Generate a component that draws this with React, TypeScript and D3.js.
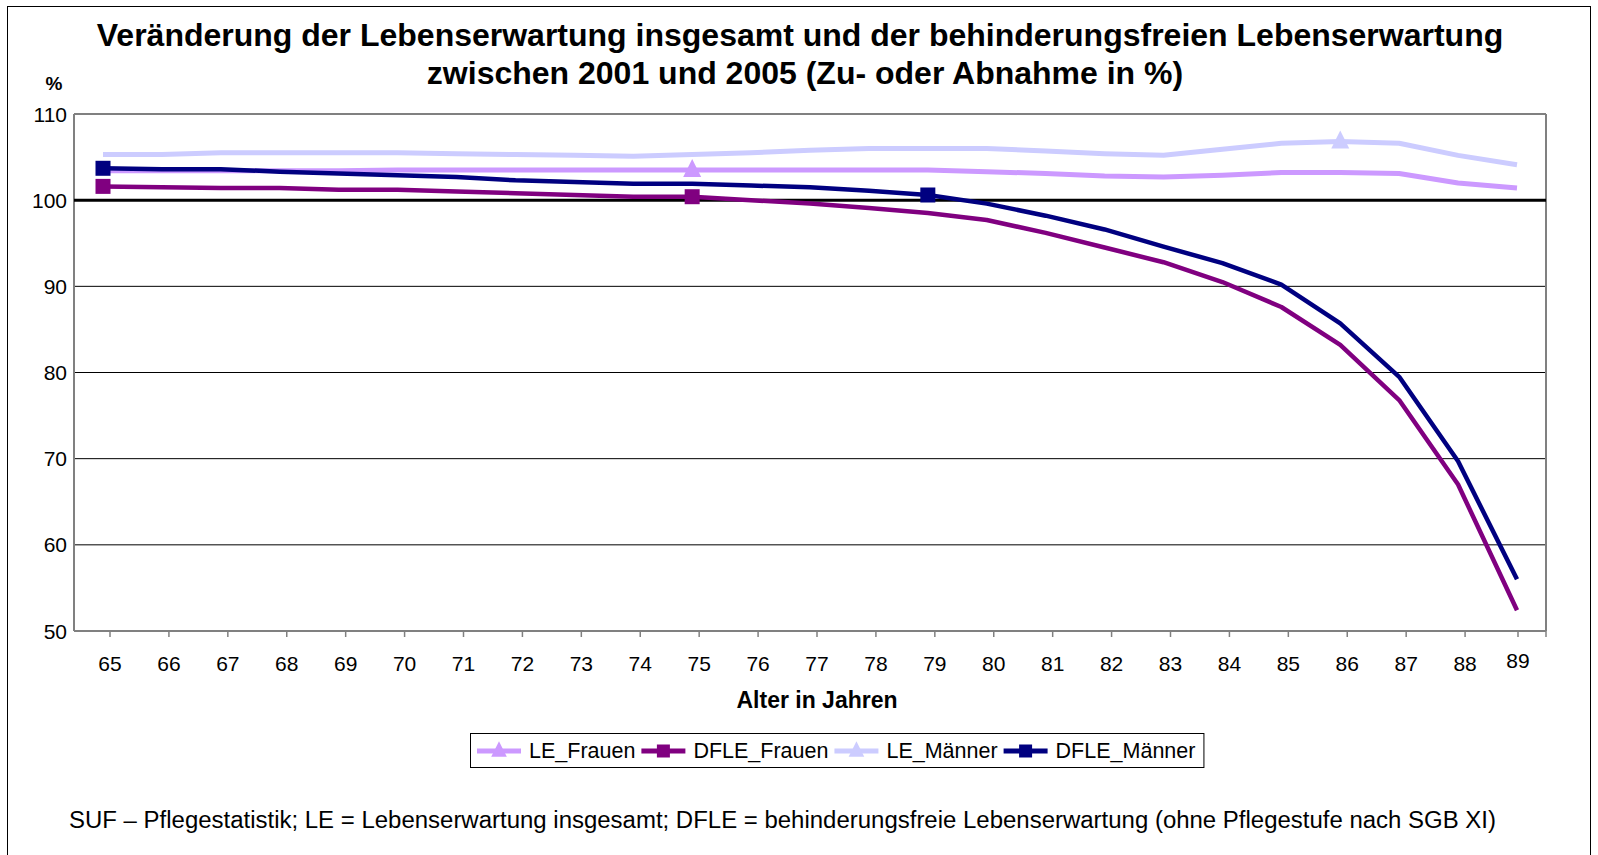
import { useRef, useEffect } from 'react';
import * as d3 from 'd3';

// ---------------------------------------------------------------------------
// Data
// ---------------------------------------------------------------------------
const AGES = [65, 66, 67, 68, 69, 70, 71, 72, 73, 74, 75, 76, 77, 78, 79, 80, 81, 82, 83, 84, 85, 86, 87, 88, 89];
const LE_FRAUEN = [103.4, 103.4, 103.4, 103.4, 103.4, 103.5, 103.5, 103.5, 103.5, 103.5, 103.5, 103.5, 103.5, 103.5, 103.5, 103.3, 103.1, 102.8, 102.7, 102.9, 103.2, 103.2, 103.1, 102.0, 101.4];
const DFLE_FRAUEN = [101.6, 101.5, 101.4, 101.4, 101.2, 101.2, 101.0, 100.8, 100.6, 100.4, 100.4, 100.0, 99.6, 99.1, 98.5, 97.7, 96.2, 94.5, 92.8, 90.5, 87.6, 83.2, 76.8, 67.0, 52.4];
const LE_MAENNER = [105.3, 105.3, 105.5, 105.5, 105.5, 105.5, 105.4, 105.3, 105.2, 105.1, 105.3, 105.5, 105.8, 106.0, 106.0, 106.0, 105.7, 105.4, 105.2, 105.9, 106.6, 106.8, 106.6, 105.2, 104.1];
const DFLE_MAENNER = [103.7, 103.6, 103.6, 103.3, 103.1, 102.9, 102.7, 102.3, 102.1, 101.9, 101.9, 101.7, 101.5, 101.1, 100.6, 99.6, 98.2, 96.6, 94.6, 92.7, 90.2, 85.7, 79.5, 69.7, 56.0];
const Y_TICKS = [50, 60, 70, 80, 90, 100, 110];

const SERIES = [
  { name: 'LE_Frauen', values: LE_FRAUEN, color: '#CC99FF', marker: 'triangle', markAt: [75] },
  { name: 'DFLE_Frauen', values: DFLE_FRAUEN, color: '#800080', marker: 'square', markAt: [65, 75] },
  { name: 'LE_Männer', values: LE_MAENNER, color: '#CCCCFF', marker: 'triangle', markAt: [86] },
  { name: 'DFLE_Männer', values: DFLE_MAENNER, color: '#000080', marker: 'square', markAt: [65, 79] },
];

const TITLE_1 = 'Veränderung der Lebenserwartung insgesamt und der behinderungsfreien Lebenserwartung';
const TITLE_2 = 'zwischen 2001 und 2005 (Zu- oder Abnahme in %)';
const X_TITLE = 'Alter in Jahren';
const FOOTNOTE =
  'SUF – Pflegestatistik; LE = Lebenserwartung insgesamt; DFLE = behinderungsfreie Lebenserwartung (ohne Pflegestufe nach SGB XI)';

const FONT = 'Arial, "Liberation Sans", sans-serif';
const W = 1598;
const H = 855;

export default function App() {
  const svgRef = useRef<SVGSVGElement>(null);

  useEffect(() => {
    const svg = svgRef.current;
    if (!svg) return;
    const sel = d3.select(svg);
    sel.selectAll('*').remove();

    // plot area
    const left = 74;
    const right = 1546;
    const top = 114;
    const bottom = 631;

    const x = d3.scaleLinear().domain([65, 89]).range([103, 1517]);
    const y = d3.scaleLinear().domain([50, 110]).range([bottom, top]);

    // outer frame
    sel.append('rect')
      .attr('x', 7.5).attr('y', 6.5).attr('width', 1583).attr('height', 860)
      .attr('fill', '#fff').attr('stroke', '#000').attr('stroke-width', 1);

    // titles
    sel.append('text')
      .attr('x', 800).attr('y', 46)
      .attr('text-anchor', 'middle')
      .attr('font-family', FONT).attr('font-weight', 'bold').attr('font-size', 32)
      .text(TITLE_1);
    sel.append('text')
      .attr('x', 805).attr('y', 84)
      .attr('text-anchor', 'middle')
      .attr('font-family', FONT).attr('font-weight', 'bold').attr('font-size', 32)
      .text(TITLE_2);
    sel.append('text')
      .attr('x', 54).attr('y', 90)
      .attr('text-anchor', 'middle')
      .attr('font-family', FONT).attr('font-weight', 'bold').attr('font-size', 19)
      .text('%');

    // gridlines
    Y_TICKS.filter((t) => t > 50 && t < 100).forEach((t) => {
      sel.append('line')
        .attr('x1', left).attr('x2', right)
        .attr('y1', y(t)).attr('y2', y(t))
        .attr('stroke', '#000').attr('stroke-width', 1);
    });

    // plot frame
    sel.append('line').attr('x1', left).attr('x2', right).attr('y1', top).attr('y2', top)
      .attr('stroke', '#808080').attr('stroke-width', 2);
    sel.append('line').attr('x1', right).attr('x2', right).attr('y1', top).attr('y2', bottom)
      .attr('stroke', '#808080').attr('stroke-width', 2);
    sel.append('line').attr('x1', left).attr('x2', left).attr('y1', top).attr('y2', bottom)
      .attr('stroke', '#808080').attr('stroke-width', 2);
    sel.append('line').attr('x1', left).attr('x2', right).attr('y1', bottom).attr('y2', bottom)
      .attr('stroke', '#808080').attr('stroke-width', 2);

    // 100 reference line
    sel.append('line')
      .attr('x1', left).attr('x2', right)
      .attr('y1', y(100)).attr('y2', y(100))
      .attr('stroke', '#000').attr('stroke-width', 3);

    // y labels
    Y_TICKS.forEach((t) => {
      sel.append('text')
        .attr('x', 67).attr('y', y(t))
        .attr('text-anchor', 'end').attr('dominant-baseline', 'central')
        .attr('font-family', FONT).attr('font-size', 21)
        .text(String(t));
    });

    // x ticks + labels (Excel offsets category labels slightly)
    const labelX = (a: number) => (a === 89 ? x(a) + 1 : x(a) + 7);
    AGES.forEach((a) => {
      const lx = labelX(a);
      sel.append('line')
        .attr('x1', lx).attr('x2', lx).attr('y1', bottom).attr('y2', bottom + 6)
        .attr('stroke', '#808080').attr('stroke-width', 1.5);
      sel.append('text')
        .attr('x', lx).attr('y', a === 89 ? 660 : 663)
        .attr('text-anchor', 'middle').attr('dominant-baseline', 'central')
        .attr('font-family', FONT).attr('font-size', 21)
        .text(String(a));
    });
    sel.append('line')
      .attr('x1', right).attr('x2', right).attr('y1', bottom).attr('y2', bottom + 6)
      .attr('stroke', '#808080').attr('stroke-width', 1.5);

    sel.append('text')
      .attr('x', 817).attr('y', 700)
      .attr('text-anchor', 'middle').attr('dominant-baseline', 'central')
      .attr('font-family', FONT).attr('font-weight', 'bold').attr('font-size', 23)
      .text(X_TITLE);

    // series
    const drawMarker = (
      g: d3.Selection<SVGGElement, unknown, null, undefined>,
      type: string,
      cx: number,
      cy: number,
      color: string,
      size: number,
    ) => {
      if (type === 'square') {
        g.append('rect')
          .attr('x', cx - size / 2).attr('y', cy - size / 2)
          .attr('width', size).attr('height', size)
          .attr('fill', color);
      } else {
        const s = size * 1.2;
        g.append('path')
          .attr('d', `M${cx},${cy - s / 2 - 2}L${cx + s / 2},${cy + s / 2 - 2}L${cx - s / 2},${cy + s / 2 - 2}Z`)
          .attr('fill', color);
      }
    };

    const line = d3
      .line<number>()
      .x((_, i) => x(AGES[i]))
      .y((d) => y(d));

    SERIES.forEach((s) => {
      const g = sel.append('g');
      g.append('path')
        .datum(s.values)
        .attr('d', line)
        .attr('fill', 'none')
        .attr('stroke', s.color)
        .attr('stroke-width', s.marker === 'triangle' ? 5 : 4.5)
        .attr('stroke-linejoin', 'round');
      s.markAt.forEach((a) => {
        const i = AGES.indexOf(a);
        drawMarker(g, s.marker, x(a), y(s.values[i]), s.color, 15);
      });
    });

    // legend
    const lg = sel.append('g');
    const box = lg.append('rect')
      .attr('y', 733.5).attr('height', 34)
      .attr('fill', '#fff').attr('stroke', '#000').attr('stroke-width', 1);
    let cx = 477;
    SERIES.forEach((s) => {
      const ig = lg.append('g');
      ig.append('line')
        .attr('x1', cx).attr('x2', cx + 44).attr('y1', 751).attr('y2', 751)
        .attr('stroke', s.color).attr('stroke-width', 5);
      drawMarker(ig, s.marker, cx + 22, 751, s.color, 13);
      const t = ig.append('text')
        .attr('x', cx + 52).attr('y', 751)
        .attr('dominant-baseline', 'central')
        .attr('font-family', FONT).attr('font-size', 21.5)
        .text(s.name);
      const tw = (t.node() as SVGTextElement).getComputedTextLength();
      cx += 52 + tw + 6;
    });
    box.attr('x', 470.5).attr('width', cx - 470 + 2);

    sel.append('text')
      .attr('x', 69).attr('y', 828)
      .attr('font-family', FONT).attr('font-size', 23)
      .attr('textLength', 1427).attr('lengthAdjust', 'spacingAndGlyphs')
      .text(FOOTNOTE);
  }, []);

  return (
    <div style={{ position: 'absolute', left: 0, top: 0 }}>
      <svg ref={svgRef} width={W} height={H} style={{ display: 'block' }} />
    </div>
  );
}
